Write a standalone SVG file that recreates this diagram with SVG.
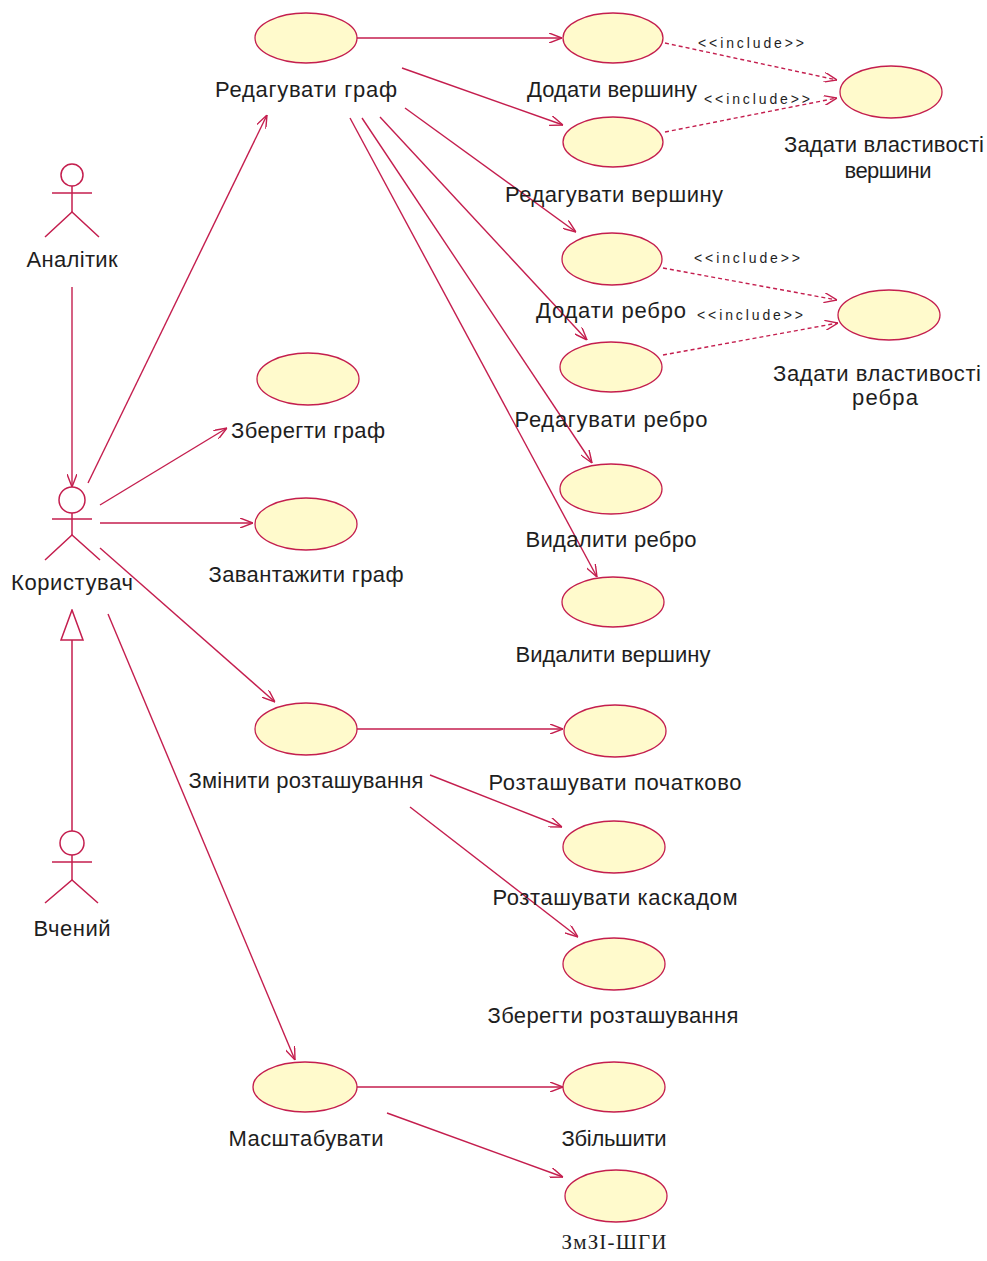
<svg xmlns="http://www.w3.org/2000/svg" width="987" height="1261" viewBox="0 0 987 1261">
<style>
.uc{fill:#FFFACC;stroke:#C41E4E;stroke-width:1.3}
.lbl{font-family:"Liberation Sans",Arial,sans-serif;font-size:22px;fill:#1e1e1e;text-anchor:middle}
.inc{font-family:"Liberation Sans",Arial,sans-serif;font-size:14px;fill:#1e1e1e;text-anchor:middle}
.ser{font-family:"Liberation Serif","Times New Roman",serif;font-size:21px;fill:#1e1e1e;text-anchor:middle}
.act{fill:none;stroke:#C41E4E;stroke-width:1.5}
.assoc{fill:none;stroke:#C41E4E;stroke-width:1.4;marker-end:url(#open)}
.dep{fill:none;stroke:#C41E4E;stroke-width:1.4;stroke-dasharray:4 3;marker-end:url(#open)}
.gen{fill:none;stroke:#C41E4E;stroke-width:1.5;marker-end:url(#tri)}
</style>
<defs>
<marker id="open" viewBox="0 0 13 10" refX="13" refY="5" markerWidth="13" markerHeight="10" markerUnits="userSpaceOnUse" orient="auto">
<path d="M0,0 L13,5 L0,10" fill="none" stroke="#C41E4E" stroke-width="1.4"/>
</marker>
<marker id="tri" viewBox="-1 -1 32 24" refX="30" refY="11" markerWidth="32" markerHeight="24" markerUnits="userSpaceOnUse" orient="auto">
<path d="M0,0 L30,11 L0,22 Z" fill="#FFFFFF" stroke="#C41E4E" stroke-width="1.5"/>
</marker>
</defs>
<rect width="987" height="1261" fill="#FFFFFF"/>

<g id="connectors">
<line class="assoc" x1="72" y1="287" x2="72" y2="487"/>
<line class="gen" x1="72" y1="831" x2="72" y2="610"/>
<line class="assoc" x1="88" y1="483" x2="267" y2="115"/>
<line class="assoc" x1="100" y1="505" x2="227" y2="428"/>
<line class="assoc" x1="100" y1="523" x2="253" y2="523"/>
<line class="assoc" x1="100" y1="548" x2="275" y2="702"/>
<line class="assoc" x1="108" y1="614" x2="295" y2="1060"/>
<line class="assoc" x1="357" y1="38" x2="562" y2="38"/>
<line class="assoc" x1="402" y1="68" x2="563" y2="125"/>
<line class="assoc" x1="405" y1="108" x2="576" y2="232"/>
<line class="assoc" x1="380" y1="117" x2="587" y2="340"/>
<line class="assoc" x1="362" y1="118" x2="592" y2="463"/>
<line class="assoc" x1="350" y1="118" x2="597" y2="577"/>
<line class="dep" x1="665" y1="43" x2="837" y2="80"/>
<line class="dep" x1="665" y1="132" x2="837" y2="98"/>
<line class="dep" x1="663" y1="268" x2="837" y2="300"/>
<line class="dep" x1="663" y1="355" x2="838" y2="323"/>
<line class="assoc" x1="357" y1="729" x2="563" y2="729"/>
<line class="assoc" x1="430" y1="775" x2="562" y2="827"/>
<line class="assoc" x1="410" y1="807" x2="578" y2="937"/>
<line class="assoc" x1="357" y1="1087" x2="563" y2="1087"/>
<line class="assoc" x1="387" y1="1113" x2="563" y2="1177"/>
<text class="inc" x="751" y="48" textLength="106" lengthAdjust="spacing">&lt;&lt;include&gt;&gt;</text>
<text class="inc" x="757" y="104" textLength="106" lengthAdjust="spacing">&lt;&lt;include&gt;&gt;</text>
<text class="inc" x="747" y="263" textLength="106" lengthAdjust="spacing">&lt;&lt;include&gt;&gt;</text>
<text class="inc" x="750" y="320" textLength="106" lengthAdjust="spacing">&lt;&lt;include&gt;&gt;</text>
</g>

<g id="actor-analityk">
<circle class="act" cx="72" cy="175" r="11"/>
<line class="act" x1="52" y1="193" x2="92" y2="193"/>
<line class="act" x1="72" y1="186" x2="72" y2="212"/>
<polyline class="act" points="45,237 72,212 99,237"/>
<text class="lbl" x="72" y="267" textLength="91" lengthAdjust="spacing">Аналітик</text>
</g>

<g id="actor-korystuvach">
<circle class="act" cx="72" cy="500" r="13"/>
<line class="act" x1="52" y1="519" x2="92" y2="519"/>
<line class="act" x1="72" y1="513" x2="72" y2="535"/>
<polyline class="act" points="45,560 72,535 100,560"/>
<text class="lbl" x="72" y="590" textLength="122" lengthAdjust="spacing">Користувач</text>
</g>

<g id="actor-vchenyi">
<circle class="act" cx="72" cy="843" r="12"/>
<line class="act" x1="52" y1="862" x2="92" y2="862"/>
<line class="act" x1="72" y1="855" x2="72" y2="880"/>
<polyline class="act" points="45,903 72,880 98,903"/>
<text class="lbl" x="72" y="936" textLength="77" lengthAdjust="spacing">Вчений</text>
</g>

<g id="uc-redaguvaty-graf">
<ellipse class="uc" cx="306" cy="38" rx="51" ry="25"/>
<text class="lbl" x="306" y="97" textLength="182" lengthAdjust="spacing">Редагувати граф</text>
</g>
<g id="uc-dodaty-vershynu">
<ellipse class="uc" cx="613" cy="38" rx="50" ry="25"/>
<text class="lbl" x="612" y="97" textLength="170" lengthAdjust="spacing">Додати вершину</text>
</g>
<g id="uc-zadaty-vershyny">
<ellipse class="uc" cx="891" cy="92" rx="51" ry="26"/>
<text class="lbl" x="884" y="152" textLength="200" lengthAdjust="spacing">Задати властивості</text>
<text class="lbl" x="888" y="178" textLength="87" lengthAdjust="spacing">вершини</text>
</g>
<g id="uc-redaguvaty-vershynu">
<ellipse class="uc" cx="613" cy="142" rx="50" ry="25"/>
<text class="lbl" x="614" y="202" textLength="218" lengthAdjust="spacing">Редагувати вершину</text>
</g>
<g id="uc-dodaty-rebro">
<ellipse class="uc" cx="612" cy="259" rx="50" ry="26"/>
<text class="lbl" x="611" y="318" textLength="150" lengthAdjust="spacing">Додати ребро</text>
</g>
<g id="uc-zadaty-rebra">
<ellipse class="uc" cx="889" cy="315" rx="51" ry="25"/>
<text class="lbl" x="877" y="381" textLength="208" lengthAdjust="spacing">Задати властивості</text>
<text class="lbl" x="885" y="405" textLength="66" lengthAdjust="spacing">ребра</text>
</g>
<g id="uc-redaguvaty-rebro">
<ellipse class="uc" cx="611" cy="367" rx="51" ry="25"/>
<text class="lbl" x="611" y="427" textLength="193" lengthAdjust="spacing">Редагувати ребро</text>
</g>
<g id="uc-vydalyty-rebro">
<ellipse class="uc" cx="611" cy="489" rx="51" ry="25"/>
<text class="lbl" x="611" y="547" textLength="171" lengthAdjust="spacing">Видалити ребро</text>
</g>
<g id="uc-vydalyty-vershynu">
<ellipse class="uc" cx="613" cy="602" rx="51" ry="25"/>
<text class="lbl" x="613" y="662" textLength="195" lengthAdjust="spacing">Видалити вершину</text>
</g>
<g id="uc-zberegty-graf">
<ellipse class="uc" cx="308" cy="379" rx="51" ry="26"/>
<text class="lbl" x="308" y="438" textLength="154" lengthAdjust="spacing">Зберегти граф</text>
</g>
<g id="uc-zavantazhyty-graf">
<ellipse class="uc" cx="306" cy="524" rx="51" ry="26"/>
<text class="lbl" x="306" y="582" textLength="195" lengthAdjust="spacing">Завантажити граф</text>
</g>
<g id="uc-zminyty-roztashuvannya">
<ellipse class="uc" cx="306" cy="729" rx="51" ry="26"/>
<text class="lbl" x="306" y="788" textLength="235" lengthAdjust="spacing">Змінити розташування</text>
</g>
<g id="uc-roztashuvaty-pochatkovo">
<ellipse class="uc" cx="615" cy="731" rx="51" ry="26"/>
<text class="lbl" x="615" y="790" textLength="253" lengthAdjust="spacing">Розташувати початково</text>
</g>
<g id="uc-roztashuvaty-kaskadom">
<ellipse class="uc" cx="614" cy="847" rx="51" ry="26"/>
<text class="lbl" x="615" y="905" textLength="245" lengthAdjust="spacing">Розташувати каскадом</text>
</g>
<g id="uc-zberegty-roztashuvannya">
<ellipse class="uc" cx="614" cy="964" rx="51" ry="26"/>
<text class="lbl" x="613" y="1023" textLength="251" lengthAdjust="spacing">Зберегти розташування</text>
</g>
<g id="uc-masshtabuvaty">
<ellipse class="uc" cx="305" cy="1087" rx="52" ry="25"/>
<text class="lbl" x="306" y="1146" textLength="155" lengthAdjust="spacing">Масштабувати</text>
</g>
<g id="uc-zbilshyty">
<ellipse class="uc" cx="614" cy="1087" rx="51" ry="25"/>
<text class="lbl" x="614" y="1146" textLength="105" lengthAdjust="spacing">Збільшити</text>
</g>
<g id="uc-zmenshyty">
<ellipse class="uc" cx="616" cy="1196" rx="51" ry="26"/>
<text class="ser" x="614" y="1249" textLength="105" lengthAdjust="spacing">ЗмЗІ-ШГИ</text>
</g>
</svg>
